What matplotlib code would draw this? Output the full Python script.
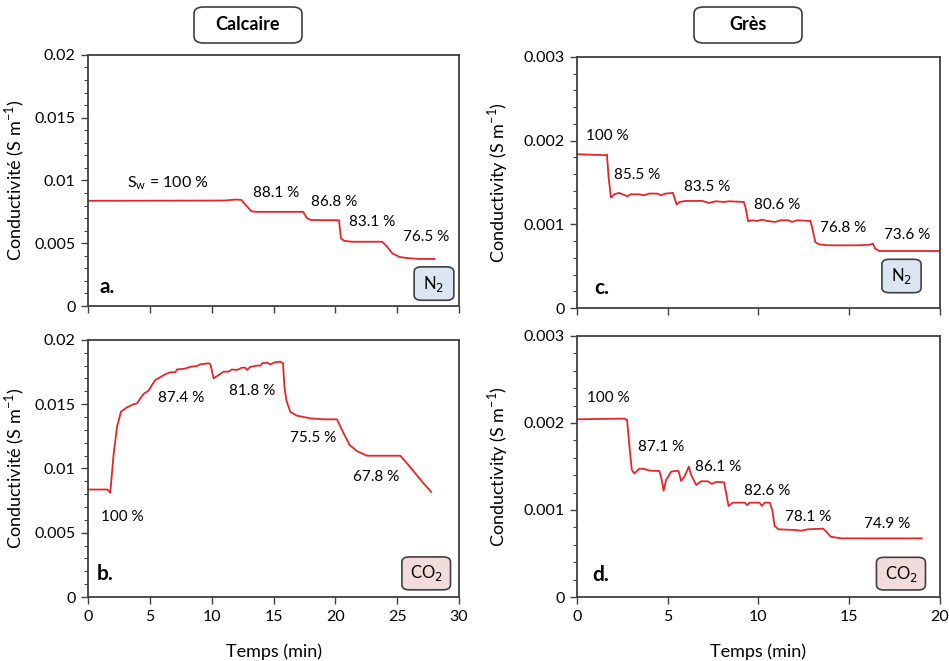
import matplotlib
matplotlib.use("Agg")
import matplotlib.pyplot as plt
from matplotlib.patches import FancyBboxPatch
from matplotlib.ticker import MultipleLocator, FuncFormatter

plt.rcParams['font.family'] = ['Lato', 'DejaVu Sans']

# calcaire, N2 (panel a)
t_a = [0, 11.0, 12.0, 12.4, 12.8, 13.2, 13.6, 17.4, 17.7, 18.0, 20.3, 20.45, 20.7, 21.3,
       23.8, 24.2, 24.6, 25.2, 26.0, 26.8, 28.0]
c_a = [0.00838, 0.00840, 0.00848, 0.00845, 0.0080, 0.00755, 0.00750, 0.00750, 0.0070, 0.00685,
       0.00683, 0.0054, 0.00520, 0.00512, 0.00512, 0.0047, 0.0042, 0.0039, 0.0038, 0.00375, 0.00375]

# calcaire, CO2 (panel b)
t_b = [0, 1.59, 1.8, 2.08, 2.35, 2.67, 3.15, 3.69, 3.96, 4.23, 4.5, 4.9, 5.18, 5.44, 5.85, 6.25,
       6.66, 7.06, 7.2, 7.87, 8.27, 8.81, 9.08, 9.76, 9.9, 10.16, 10.57, 10.97, 11.37, 11.64,
       12.05, 12.45, 12.72, 12.86, 13.13, 13.67, 13.94, 14.07, 14.47, 14.74, 15.15, 15.55, 15.77,
       15.88, 16.04, 16.36, 16.9, 17.98, 19.06, 20.13, 20.67, 21.16, 21.75, 22.56, 25.26, 25.8,
       26.47, 27.14, 27.74]
c_b = [0.00836, 0.00836, 0.0081, 0.01117, 0.01325, 0.01442, 0.01475, 0.0150, 0.01506, 0.01545,
       0.0158, 0.01605, 0.0165, 0.01688, 0.0171, 0.01733, 0.01748, 0.01748, 0.0177, 0.01777,
       0.0179, 0.01797, 0.0181, 0.01818, 0.0181, 0.0170, 0.01727, 0.01753, 0.01753, 0.0177,
       0.01766, 0.01784, 0.01784, 0.01766, 0.0179, 0.0180, 0.0180, 0.01818, 0.01823, 0.0181,
       0.01826, 0.01831, 0.01818, 0.01636, 0.0153, 0.0144, 0.0141, 0.0139, 0.01382, 0.01382,
       0.01273, 0.01182, 0.01135, 0.01099, 0.01099, 0.01039, 0.00961, 0.00883, 0.00818]

# gres, N2 (panel c)
t_c = [0, 1.59, 1.65, 1.74, 1.87, 2.05, 2.33, 2.51, 2.78, 2.97, 3.42, 3.7, 3.97, 4.43, 4.62,
       4.89, 5.29, 5.35, 5.49, 5.66, 5.99, 6.9, 7.27, 7.64, 8.1, 8.37, 9.19, 9.28, 9.43, 9.65,
       9.92, 10.2, 10.47, 10.93, 11.2, 11.66, 11.85, 12.12, 12.86, 12.95, 13.13, 13.32, 13.86,
       15.51, 16.15, 16.3, 16.43, 16.65, 20.0]
c_c = [0.001837, 0.001825, 0.001833, 0.001566, 0.001319, 0.001358, 0.001375, 0.001358,
       0.001335, 0.001358, 0.001358, 0.001347, 0.001367, 0.001367, 0.001347, 0.001367,
       0.001375, 0.001327, 0.001235, 0.001267, 0.001279, 0.001279, 0.001255, 0.001275,
       0.001267, 0.001275, 0.001267, 0.001207, 0.001036, 0.001048, 0.00104, 0.001056,
       0.00104, 0.001028, 0.001048, 0.001048, 0.001028, 0.001048, 0.00104, 0.000968,
       0.000789, 0.000761, 0.000749, 0.000749, 0.000757, 0.000769, 0.000709, 0.000681, 0.000681]

# gres, CO2 (panel d)
t_d = [0, 2.61, 2.76, 2.89, 3.02, 3.16, 3.44, 3.72, 3.99, 4.54, 4.67, 4.77, 4.91, 5.19, 5.59,
       5.74, 5.92, 6.16, 6.29, 6.57, 6.84, 7.21, 7.43, 7.67, 8.1, 8.22, 8.35, 8.59, 9.24, 9.38,
       9.51, 10.06, 10.19, 10.34, 10.62, 10.76, 10.89, 11.11, 12.0, 12.36, 12.73, 13.56, 13.74,
       13.98, 14.57, 18.99]
c_d = [0.002042, 0.00205, 0.002035, 0.001728, 0.00146, 0.001421, 0.001475, 0.001471, 0.001452,
       0.001448, 0.001345, 0.001222, 0.001345, 0.001441, 0.001452, 0.001333, 0.001383,
       0.001498, 0.001402, 0.001287, 0.00133, 0.00133, 0.001299, 0.001322, 0.001318, 0.001192,
       0.001046, 0.001084, 0.001084, 0.001057, 0.001084, 0.001084, 0.001046, 0.001084,
       0.001084, 0.001, 0.000816, 0.000778, 0.00077, 0.000762, 0.000778, 0.000785, 0.000751,
       0.000693, 0.000674, 0.000674]

# annotations de saturation (texte, t, conductivite)
lab_a = [("88.1 %", 15.2, 0.0090), ("86.8 %", 19.9, 0.0083), ("83.1 %", 23.0, 0.00672),
         ("76.5 %", 27.3, 0.00547)]
lab_b = [("100 %", 2.8, 0.0062), ("87.4 %", 7.55, 0.0155), ("81.8 %", 13.3, 0.0160),
         ("75.5 %", 18.2, 0.0124), ("67.8 %", 23.3, 0.0093)]
lab_c = [("100 %", 1.69, 0.00205), ("85.5 %", 3.3, 0.00159), ("83.5 %", 7.15, 0.001446),
         ("80.6 %", 11.04, 0.001227), ("76.8 %", 14.69, 0.00096), ("73.6 %", 18.2, 0.000869)]
lab_d = [("100 %", 1.73, 0.002284), ("87.1 %", 4.66, 0.00172), ("86.1 %", 7.78, 0.001498),
         ("82.6 %", 10.47, 0.001215), ("78.1 %", 12.75, 0.000916), ("74.9 %", 17.08, 0.000839)]

rouge = '#e3262b'
gris = '#404040'
bleu_n2 = '#dce6f2'
rose_co2 = '#f2dcdb'

fig = plt.figure(figsize=(9.49, 6.61), dpi=100)
ax_a = fig.add_axes([0.0927, 0.537, 0.391, 0.380])
ax_b = fig.add_axes([0.0927, 0.0968, 0.391, 0.389])
ax_c = fig.add_axes([0.608, 0.534, 0.3825, 0.380])
ax_d = fig.add_axes([0.608, 0.0968, 0.3825, 0.395])

fmt = FuncFormatter(lambda v, p: '%g' % round(v, 6))


def panneau(ax, t, c, labels, xmax, ymax, ymaj, ymin, lettre, lettre_pos, gaz, box, ylabel,
            ylab_x, bas):
    ax.plot(t, c, color=rouge, lw=1.3)
    ax.set_xlim(0, xmax)
    ax.set_ylim(0, ymax)
    ax.xaxis.set_major_locator(MultipleLocator(5))
    ax.yaxis.set_major_locator(MultipleLocator(ymaj))
    ax.yaxis.set_minor_locator(MultipleLocator(ymin))
    ax.yaxis.set_major_formatter(fmt)
    ax.tick_params(direction='out', length=5, width=1, color=gris, labelsize=11.5, pad=4)
    ax.tick_params(which='minor', direction='out', length=3, width=0.8, color=gris)
    for s in ax.spines.values():
        s.set_color(gris)
        s.set_linewidth(1.3)
    if bas:
        ax.set_xlabel('Temps (min)', fontsize=13, labelpad=14)
    else:
        ax.tick_params(axis='x', labelbottom=False)
    ax.set_ylabel(ylabel, fontsize=13)
    ax.yaxis.set_label_coords(ylab_x, 0.5)
    for txt, x, y in labels:
        ax.text(x, y, txt, ha='center', va='center', fontsize=11)
    ax.text(lettre_pos[0], lettre_pos[1], lettre, fontsize=15, fontweight='bold',
            ha='left', va='center', transform=ax.transAxes)
    x0, y0, w, h = box
    couleur = bleu_n2 if gaz == 'N2' else rose_co2
    p = FancyBboxPatch((x0, y0), w, h, boxstyle='round,pad=0,rounding_size=0.02',
                       transform=ax.transAxes, fc=couleur, ec=gris, lw=1.2, clip_on=False,
                       mutation_aspect=1.0)
    ax.add_patch(p)
    nom = r'N$_2$' if gaz == 'N2' else r'CO$_2$'
    ax.text(x0 + w / 2, y0 + h / 2, nom, ha='center', va='center', fontsize=12,
            transform=ax.transAxes)


ylab_fr = 'Conductivité (S m$^\\mathregular{-1}$)'
ylab_en = 'Conductivity (S m$^\\mathregular{-1}$)'
panneau(ax_a, t_a, c_a, lab_a, 30, 0.02, 0.005, 0.001, 'a.', (0.03, 0.075), 'N2',
        (0.879, 0.023, 0.107, 0.133), ylab_fr, -0.165, False)
ax_a.text(3.15, 0.0098, 'S$_\\mathregular{w}$ = 100 %', ha='left', va='center', fontsize=11.5)
panneau(ax_b, t_b, c_b, lab_b, 30, 0.02, 0.005, 0.001, 'b.', (0.025, 0.09), 'CO2',
        (0.846, 0.028, 0.131, 0.128), ylab_fr, -0.165, True)
panneau(ax_c, t_c, c_c, lab_c, 20, 0.003, 0.001, 0.0002, 'c.', (0.048, 0.081), 'N2',
        (0.840, 0.061, 0.108, 0.133), ylab_en, -0.185, False)
panneau(ax_d, t_d, c_d, lab_d, 20, 0.003, 0.001, 0.0002, 'd.', (0.043, 0.085), 'CO2',
        (0.825, 0.027, 0.135, 0.125), ylab_en, -0.185, True)

# titres encadres
for nom, xc in [('Calcaire', 248 / 949), ('Grès', 748 / 949)]:
    w, h = 108 / 949, 36 / 661
    fig.patches.append(FancyBboxPatch((xc - w / 2, 1 - 43 / 661), w, h,
                                      boxstyle='round,pad=0,rounding_size=0.01',
                                      transform=fig.transFigure, fc='white', ec=gris, lw=1.2))
    fig.text(xc, 1 - 25 / 661, nom, ha='center', va='center', fontsize=13, fontweight='bold')

fig.savefig('out.png', dpi=100)
